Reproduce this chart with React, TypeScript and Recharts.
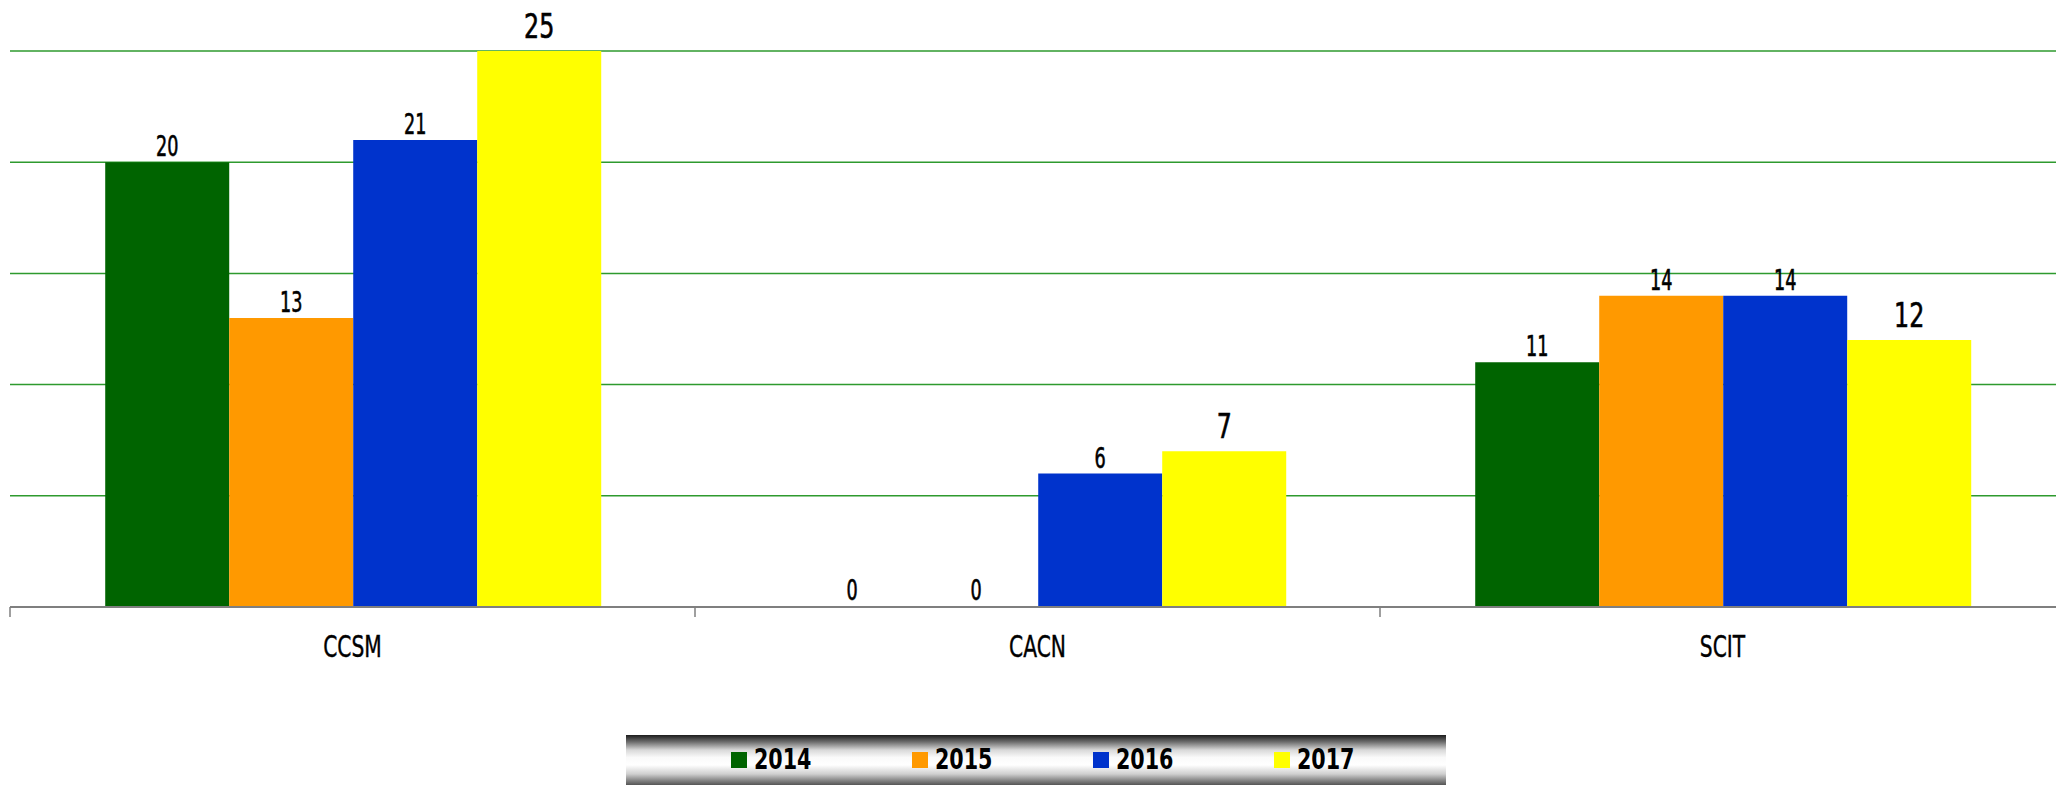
import React from "react";
import {
  BarChart,
  Bar,
  XAxis,
  YAxis,
  CartesianGrid,
  Legend,
  LabelList,
} from "recharts";

const categories = ["CCSM", "CACN", "SCIT"];
const years = ["2014", "2015", "2016", "2017"];
const values2014 = [20, 0, 11];
const values2015 = [13, 0, 14];
const values2016 = [21, 6, 14];
const values2017 = [25, 7, 12];
const yTicks = [0, 5, 10, 15, 20, 25];

const colors = ["#006400", "#ff9900", "#0033cc", "#ffff00"];
const FONT = "'Liberation Sans Narrow', 'DejaVu Sans Condensed', sans-serif";

const CHART_W = 2065;
const CHART_H = 785;
const MARGIN_LEFT = 10;
const band = (CHART_W - MARGIN_LEFT) / categories.length;

const data = categories.map((name, i) => ({
  name,
  "2014": values2014[i],
  "2015": values2015[i],
  "2016": values2016[i],
  "2017": values2017[i],
}));

// excel-style ticks sit on category boundaries, not centres
function CategoryTick(props: any) {
  const { x, y, payload } = props;
  const left = x - band / 2;
  return (
    <g>
      <line x1={left} x2={left} y1={y - 10} y2={y} stroke="#7f7f7f" strokeWidth={1.5} />
      <text
        transform={`translate(${x} ${y + 40}) scale(0.75 1)`}
        textAnchor="middle"
        fontFamily={FONT}
        fontSize={30}
        fill="#000"
        stroke="#000"
        strokeWidth={0.4}
      >
        {payload.value}
      </text>
    </g>
  );
}

const makeLabel = (size: number, gap: number, sx: number) => (props: any) => {
  const vb = props.viewBox ?? props;
  const { x, y, width } = vb;
  return (
    <text
      transform={`translate(${x + width / 2} ${y - gap}) scale(${sx} 1)`}
      textAnchor="middle"
      fontFamily={FONT}
      fontSize={size}
      fill="#000"
      stroke="#000"
      strokeWidth={0.6}
    >
      {props.value}
    </text>
  );
};

function LegendBox() {
  return (
    <div
      style={{
        width: 820,
        height: 50,
        boxSizing: "border-box",
        paddingLeft: 105,
        display: "flex",
        alignItems: "center",
        background:
          "linear-gradient(to bottom, #1c1c1c 0%, #6e6e6e 14%, #d8d8d8 30%, #fafafa 45%, #ffffff 60%, #cfcfcf 78%, #8a8a8a 90%, #555 100%)",
      }}
    >
      {years.map((yr, i) => (
        <div key={yr} style={{ width: 181, flexShrink: 0, display: "flex", alignItems: "center" }}>
          <span style={{ display: "inline-block", width: 16, height: 16, background: colors[i], marginRight: 7 }} />
          <span
            style={{
              display: "inline-block",
              fontFamily: FONT,
              fontWeight: 700,
              fontSize: 28,
              color: "#000",
              lineHeight: 1,
              transform: "scaleX(0.82)",
              transformOrigin: "left center",
            }}
          >
            {yr}
          </span>
        </div>
      ))}
    </div>
  );
}

export default function App() {
  return (
    <div style={{ width: 2056, height: 785, overflow: "hidden", background: "#fff" }}>
      <style>{`body{margin:0}`}</style>
      <BarChart
        width={CHART_W}
        height={CHART_H}
        data={data}
        margin={{ top: 51, right: 0, bottom: 0, left: MARGIN_LEFT }}
        barCategoryGap="13.9%"
        barGap={0}
      >
        <CartesianGrid vertical={false} stroke="#2e9a2e" strokeWidth={1.5} />
        <YAxis hide domain={[0, 25]} ticks={yTicks} />
        {years.map((yr, i) => (
          <Bar key={yr} dataKey={yr} fill={colors[i]} minPointSize={1} isAnimationActive={false}>
            <LabelList
              dataKey={yr}
              position="top"
              content={i === 3 ? makeLabel(33, 13, 0.8) : makeLabel(28, 6, 0.7)}
            />
          </Bar>
        ))}
        <XAxis
          dataKey="name"
          height={128}
          axisLine={{ stroke: "#7f7f7f", strokeWidth: 2 }}
          tickLine={false}
          tickSize={10}
          tickMargin={0}
          tick={<CategoryTick />}
          interval={0}
        />
        <Legend
          verticalAlign="bottom"
          height={50}
          content={<LegendBox />}
          wrapperStyle={{ left: 626, bottom: 0, width: 820, height: 50 }}
        />
      </BarChart>
    </div>
  );
}
